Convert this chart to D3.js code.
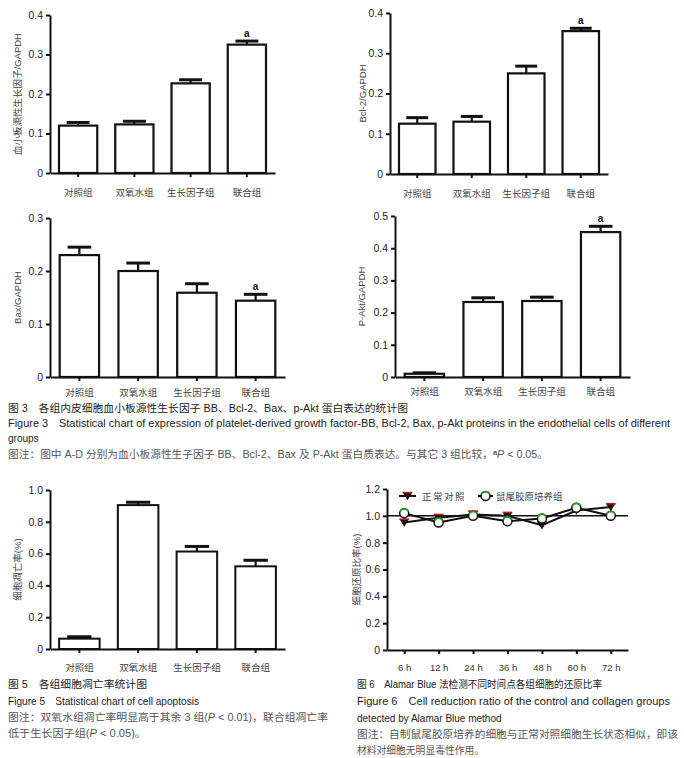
<!DOCTYPE html>
<html>
<head>
<meta charset="utf-8">
<script src="https://cdn.jsdelivr.net/npm/d3@7"></script>
<style>
body{margin:0;background:#fff}
text{font-family:"Liberation Sans",Arial,"Noto Sans CJK SC",sans-serif}
</style>
</head>
<body>
<svg id="fig" width="684" height="758"></svg>
<script>
// ---- data ----
var groups = ["对照组", "双氧水组", "生长因子组", "联合组"];

var pdgfMean = [0.120, 0.123, 0.227, 0.325];
var pdgfErr  = [0.008, 0.008, 0.009, 0.009];
var bcl2Mean = [0.125, 0.130, 0.250, 0.355];
var bcl2Err  = [0.015, 0.013, 0.018, 0.007];
var baxMean  = [0.230, 0.200, 0.159, 0.144];
var baxErr   = [0.015, 0.015, 0.017, 0.012];
var aktMean  = [0.010, 0.233, 0.236, 0.450];
var aktErr   = [0.003, 0.013, 0.012, 0.018];
var apopMean = [0.065, 0.905, 0.613, 0.520];
var apopErr  = [0.012, 0.018, 0.032, 0.038];

var hours = ["6 h", "12 h", "24 h", "36 h", "48 h", "60 h", "72 h"];
var controlRatio  = [0.950, 0.985, 1.010, 1.000, 0.930, 1.040, 1.065];
var collagenRatio = [1.020, 0.950, 1.000, 0.960, 0.980, 1.060, 1.000];
var seriesNames = ["正常对照", "鼠尾胶原培养组"];

var svg = d3.select("#fig");

function fmt(d){ return d === 0 ? "0" : d.toFixed(1); }

function styleAxis(ax){
    ax.select(".domain").attr("stroke", "#111").attr("stroke-width", 2);
    ax.selectAll(".tick line").attr("stroke", "#111").attr("stroke-width", 2);
}

function drawBars(p){
    var g = svg.append("g");
    var x = d3.scaleBand().domain(groups).range([p.x0, p.x1])
        .paddingInner(p.pad).paddingOuter(p.pad / 2);
    var y = d3.scaleLinear().domain([0, p.max]).range([p.yBot, p.yTop]);
    var data = groups.map(function(d, i){ return {name: d, v: p.mean[i], e: p.err[i], i: i}; });
    var bw = x.bandwidth();

    // error bars (drawn under the bars)
    g.selectAll(".ev").data(data).enter().append("line")
        .attr("x1", function(d){ return x(d.name) + bw / 2; })
        .attr("x2", function(d){ return x(d.name) + bw / 2; })
        .attr("y1", function(d){ return y(d.v); })
        .attr("y2", function(d){ return y(d.v + d.e); })
        .attr("stroke", "#111").attr("stroke-width", 2.2);
    g.selectAll(".ec").data(data).enter().append("line")
        .attr("x1", function(d){ return x(d.name) + bw * 0.2; })
        .attr("x2", function(d){ return x(d.name) + bw * 0.8; })
        .attr("y1", function(d){ return y(d.v + d.e); })
        .attr("y2", function(d){ return y(d.v + d.e); })
        .attr("stroke", "#111").attr("stroke-width", 3);

    g.selectAll("rect").data(data).enter().append("rect")
        .attr("x", function(d){ return x(d.name); })
        .attr("y", function(d){ return y(d.v); })
        .attr("width", bw)
        .attr("height", function(d){ return p.yBot - y(d.v); })
        .attr("fill", "#fff").attr("stroke", "#111").attr("stroke-width", 2.2);

    // significance mark
    var s = data[p.sig];
    g.append("text")
        .attr("x", x(s.name) + bw / 2)
        .attr("y", y(s.v + s.e) - 4)
        .attr("text-anchor", "middle")
        .attr("font-size", 10).attr("font-weight", "bold").attr("fill", "#111")
        .text("a");

    var ay = g.append("g").attr("transform", "translate(" + p.x0 + ",0)")
        .call(d3.axisLeft(y).tickValues(p.ticks).tickFormat(fmt).tickSize(4).tickSizeOuter(0).tickPadding(3));
    styleAxis(ay);
    ay.selectAll("text").attr("font-size", 10.5).attr("fill", "#222");

    var ax = g.append("g").attr("transform", "translate(0," + p.yBot + ")")
        .call(d3.axisBottom(x).tickSize(4).tickSizeOuter(0).tickPadding(p.labPad));
    styleAxis(ax);
    ax.selectAll("text").attr("font-size", 9.5).attr("fill", "#444")
        .attr("font-family", "Noto Sans CJK SC");

    g.append("text")
        .attr("transform", "translate(" + p.labX + "," + ((p.yTop + p.yBot) / 2) + ") rotate(-90)")
        .attr("text-anchor", "middle")
        .attr("font-size", 9.5).attr("fill", "#444")
        .text(p.label);
}

drawBars({x0: 50, x1: 275, yTop: 15, yBot: 173, max: 0.4, ticks: [0, 0.1, 0.2, 0.3, 0.4],
    pad: 0.32, mean: pdgfMean, err: pdgfErr, sig: 3, labX: 21, labPad: 12, label: "血小板源性生长因子/GAPDH"});
drawBars({x0: 390, x1: 608, yTop: 13, yBot: 174, max: 0.4, ticks: [0, 0.1, 0.2, 0.3, 0.4],
    pad: 0.33, mean: bcl2Mean, err: bcl2Err, sig: 3, labX: 366, labPad: 12, label: "Bcl-2/GAPDH"});
drawBars({x0: 50, x1: 285, yTop: 218, yBot: 377, max: 0.3, ticks: [0, 0.1, 0.2, 0.3],
    pad: 0.33, mean: baxMean, err: baxErr, sig: 3, labX: 21, labPad: 8, label: "Bax/GAPDH"});
drawBars({x0: 395, x1: 630, yTop: 216, yBot: 377, max: 0.5, ticks: [0, 0.1, 0.2, 0.3, 0.4, 0.5],
    pad: 0.33, mean: aktMean, err: aktErr, sig: 3, labX: 365, labPad: 7, label: "P-Akt/GAPDH"});

// Figure 5 (no significance letter)
(function(){
    var p = {x0: 50, x1: 285, yTop: 490, yBot: 649};
    var g = svg.append("g");
    var x = d3.scaleBand().domain(groups).range([p.x0, p.x1]).paddingInner(0.31).paddingOuter(0.155);
    var y = d3.scaleLinear().domain([0, 1]).range([p.yBot, p.yTop]);
    var bw = x.bandwidth();
    var data = groups.map(function(d, i){ return {name: d, v: apopMean[i], e: apopErr[i]}; });
    g.selectAll(".ev").data(data).enter().append("line")
        .attr("x1", function(d){ return x(d.name) + bw / 2; })
        .attr("x2", function(d){ return x(d.name) + bw / 2; })
        .attr("y1", function(d){ return y(d.v); })
        .attr("y2", function(d){ return y(d.v + d.e); })
        .attr("stroke", "#111").attr("stroke-width", 2.2);
    g.selectAll(".ec").data(data).enter().append("line")
        .attr("x1", function(d){ return x(d.name) + bw * 0.2; })
        .attr("x2", function(d){ return x(d.name) + bw * 0.8; })
        .attr("y1", function(d){ return y(d.v + d.e); })
        .attr("y2", function(d){ return y(d.v + d.e); })
        .attr("stroke", "#111").attr("stroke-width", 3);
    g.selectAll("rect").data(data).enter().append("rect")
        .attr("x", function(d){ return x(d.name); })
        .attr("y", function(d){ return y(d.v); })
        .attr("width", bw)
        .attr("height", function(d){ return p.yBot - y(d.v); })
        .attr("fill", "#fff").attr("stroke", "#111").attr("stroke-width", 2);
    var ay = g.append("g").attr("transform", "translate(" + p.x0 + ",0)")
        .call(d3.axisLeft(y).tickValues([0, 0.2, 0.4, 0.6, 0.8, 1.0]).tickFormat(fmt).tickSize(4).tickSizeOuter(0).tickPadding(3));
    styleAxis(ay);
    ay.selectAll("text").attr("font-size", 10.5).attr("fill", "#222");
    var ax = g.append("g").attr("transform", "translate(0," + p.yBot + ")")
        .call(d3.axisBottom(x).tickSize(4).tickSizeOuter(0).tickPadding(11));
    styleAxis(ax);
    ax.selectAll("text").attr("font-size", 9.5).attr("fill", "#444").attr("font-family", "Noto Sans CJK SC");
    g.append("text")
        .attr("transform", "translate(21," + ((p.yTop + p.yBot) / 2) + ") rotate(-90)")
        .attr("text-anchor", "middle").attr("font-size", 9.5).attr("fill", "#444")
        .text("细胞凋亡率(%)");
})();

// Figure 6 line chart
(function(){
    var p = {x0: 387, x1: 628, yTop: 489, yBot: 650};
    var g = svg.append("g");
    var x = d3.scalePoint().domain(hours).range([p.x0, p.x1]).padding(0.5);
    var y = d3.scaleLinear().domain([0, 1.2]).range([p.yBot, p.yTop]);

    g.append("line").attr("x1", p.x0).attr("x2", p.x1)
        .attr("y1", y(1)).attr("y2", y(1))
        .attr("stroke", "#111").attr("stroke-width", 1.5);

    var line = d3.line().x(function(d, i){ return x(hours[i]); }).y(function(d){ return y(d); });
    g.append("path").attr("d", line(controlRatio)).attr("fill", "none").attr("stroke", "#111").attr("stroke-width", 2);
    g.append("path").attr("d", line(collagenRatio)).attr("fill", "none").attr("stroke", "#111").attr("stroke-width", 2);

    var tri = "M-4.8,-3.6L4.8,-3.6L0,4.2Z";
    function triangle(sel, cx, cy){
        var t = sel.append("g").attr("transform", "translate(" + cx + "," + cy + ")");
        t.append("path").attr("d", tri).attr("fill", "#111");
        t.append("line").attr("x1", -4.8).attr("x2", 4.8).attr("y1", -3.4).attr("y2", -3.4)
            .attr("stroke", "#d01010").attr("stroke-width", 1.6);
    }
    var arc = d3.arc().innerRadius(3.6).outerRadius(5.2).startAngle(-1.2).endAngle(1.2);
    function ring(sel, cx, cy){
        var c = sel.append("g").attr("transform", "translate(" + cx + "," + cy + ")");
        c.append("circle").attr("r", 4.5).attr("fill", "#fff").attr("stroke", "#111").attr("stroke-width", 1.5);
        c.append("path").attr("d", arc()).attr("fill", "#2a9a2a");
    }
    controlRatio.forEach(function(d, i){ triangle(g, x(hours[i]), y(d)); });
    collagenRatio.forEach(function(d, i){ ring(g, x(hours[i]), y(d)); });

    var ay = g.append("g").attr("transform", "translate(" + p.x0 + ",0)")
        .call(d3.axisLeft(y).tickValues([0, 0.2, 0.4, 0.6, 0.8, 1.0, 1.2]).tickFormat(fmt).tickSize(4).tickSizeOuter(0).tickPadding(3));
    styleAxis(ay);
    ay.selectAll("text").attr("font-size", 10.5).attr("fill", "#222");
    var ax = g.append("g").attr("transform", "translate(0," + p.yBot + ")")
        .call(d3.axisBottom(x).tickSize(4).tickSizeOuter(0).tickPadding(10));
    styleAxis(ax);
    ax.selectAll("text").attr("font-size", 9.5).attr("fill", "#333");
    g.append("text")
        .attr("transform", "translate(360," + ((p.yTop + p.yBot) / 2) + ") rotate(-90)")
        .attr("text-anchor", "middle").attr("font-size", 9.5).attr("fill", "#444")
        .text("细胞还原比率(%)");

    // legend
    var lg = g.append("g");
    lg.append("line").attr("x1", 399).attr("x2", 416).attr("y1", 496).attr("y2", 496).attr("stroke", "#111").attr("stroke-width", 2);
    triangle(lg, 407.5, 496);
    lg.append("text").attr("x", 422).attr("y", 500).attr("font-size", 9.5).attr("fill", "#444")
        .attr("letter-spacing", 1.5).attr("font-family", "Noto Sans CJK SC").text(seriesNames[0]);
    lg.append("line").attr("x1", 478).attr("x2", 493).attr("y1", 496).attr("y2", 496).attr("stroke", "#111").attr("stroke-width", 2);
    ring(lg, 485.5, 496);
    lg.append("text").attr("x", 496).attr("y", 500).attr("font-size", 9.5).attr("fill", "#444")
        .attr("font-family", "Noto Sans CJK SC").text(seriesNames[1]);
})();

// ---- captions ----
function caption(x, y, w, color, parts){
    var t = svg.append("text").attr("x", x).attr("y", y).attr("font-size", 10).attr("fill", color);
    parts.forEach(function(pt){
        var s = t.append("tspan").text(pt.t);
        if (pt.i) s.attr("font-style", "italic");
        if (pt.sup) s.attr("font-size", 7).attr("font-weight", "bold").attr("dy", -3);
        if (pt.after) s.attr("dy", 3);
    });
    if (w) t.attr("textLength", w).attr("lengthAdjust", "spacingAndGlyphs");
}
caption(8, 412, 400, "#1a1a1a", [{t: "图 3　各组内皮细胞血小板源性生长因子 BB、Bcl-2、Bax、p-Akt 蛋白表达的统计图"}]);
caption(8, 427, 662, "#222", [{t: "Figure 3　Statistical chart of expression of platelet-derived growth factor-BB, Bcl-2, Bax, p-Akt proteins in the endothelial cells of different"}]);
caption(8, 442, 0, "#222", [{t: "groups"}]);
caption(8, 458, 540, "#555", [{t: "图注：图中 A-D 分别为血小板源性生子因子 BB、Bcl-2、Bax 及 P-Akt 蛋白质表达。与其它 3 组比较，"},
    {t: "a", sup: true}, {t: "P", i: true, after: true}, {t: " < 0.05。"}]);

caption(8, 688, 139, "#1a1a1a", [{t: "图 5　各组细胞凋亡率统计图"}]);
caption(8, 705, 191, "#222", [{t: "Figure 5　Statistical chart of cell apoptosis"}]);
caption(8, 721, 320, "#555", [{t: "图注：双氧水组凋亡率明显高于其余 3 组("}, {t: "P", i: true}, {t: " < 0.01)，联合组凋亡率"}]);
caption(8, 737, 138, "#555", [{t: "低于生长因子组("}, {t: "P", i: true}, {t: " < 0.05)。"}]);

caption(357, 688, 245, "#1a1a1a", [{t: "图 6　Alamar Blue 法检测不同时间点各组细胞的还原比率"}]);
caption(357, 705, 313, "#222", [{t: "Figure 6　Cell reduction ratio of the control and collagen groups"}]);
caption(357, 722, 0, "#222", [{t: "detected by Alamar Blue method"}]);
caption(357, 738, 321, "#555", [{t: "图注：自制鼠尾胶原培养的细胞与正常对照细胞生长状态相似，即该"}]);
caption(357, 754, 127, "#555", [{t: "材料对细胞无明显毒性作用。"}]);
</script>
</body>
</html>
